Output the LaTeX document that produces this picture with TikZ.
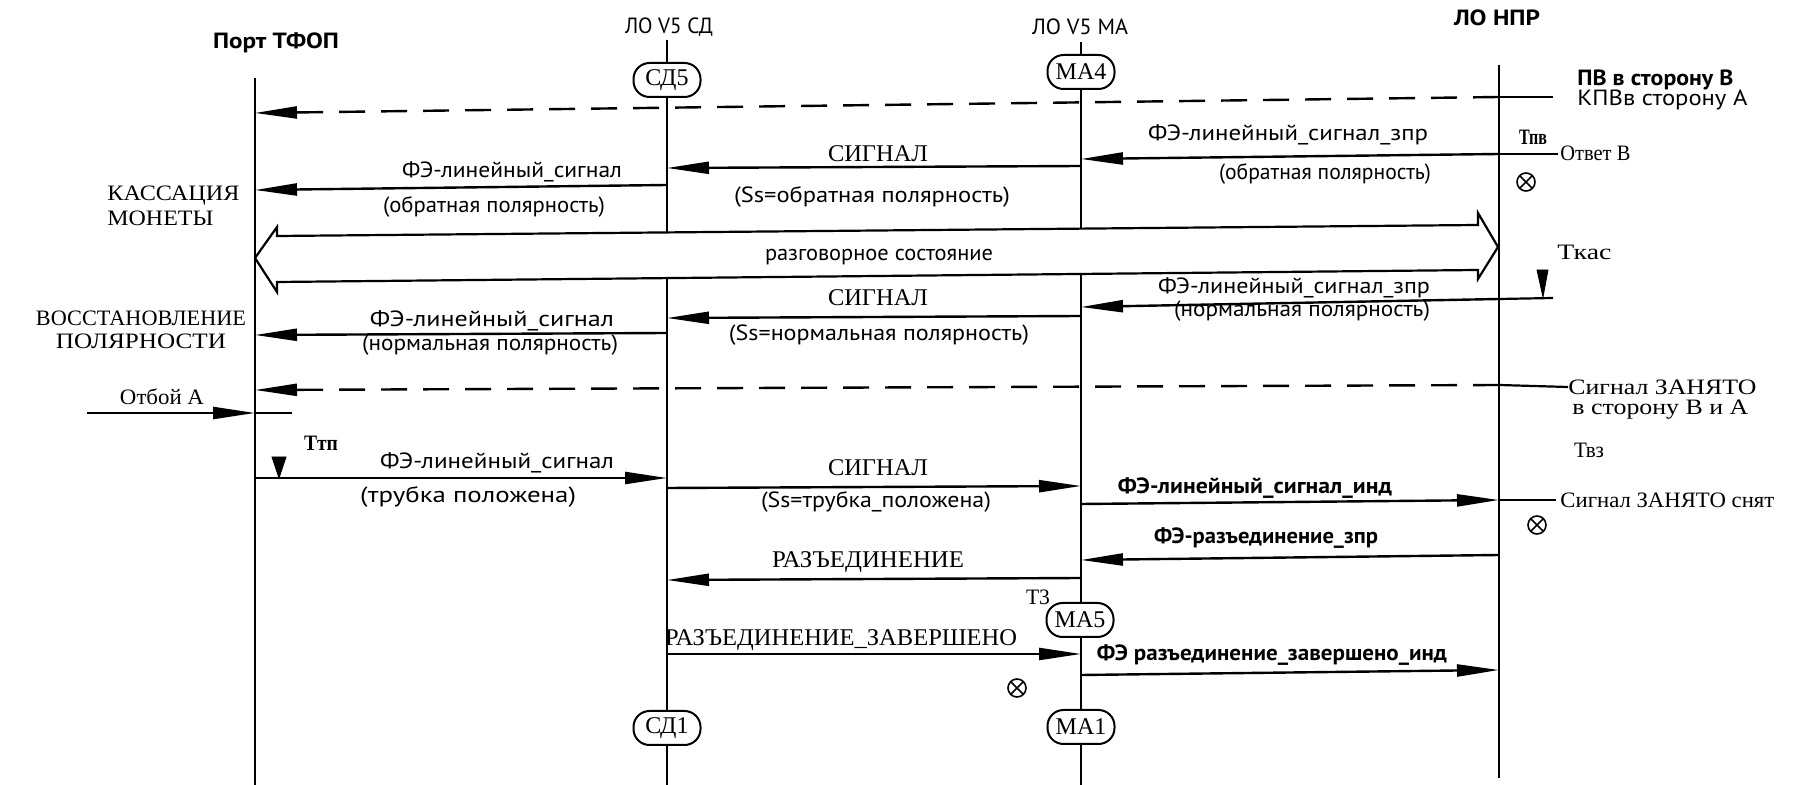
\documentclass[tikz,border=0pt]{standalone}
\usepackage{fontspec}
\usepackage{graphicx}
\setmainfont{PT Sans}
\newfontfamily\serf{Liberation Serif}
\usetikzlibrary{arrows.meta}
\newcommand\fw[2]{\resizebox{#1}{\height}{#2}}
\begin{document}
\begin{tikzpicture}[x=0.5pt,y=-0.5pt,
  every node/.style={inner sep=0pt, font=\fontsize{11}{13}\selectfont},
  ser/.style={font=\serf\fontsize{11}{13}\selectfont},
  bigser/.style={font=\serf\fontsize{12}{14}\selectfont},
  life/.style={line width=0.9pt},
  msg/.style={line width=1.2pt,-{Triangle[length=21pt,width=6pt]}},
  dmsg/.style={msg, dash pattern=on 13pt off 8pt},
  stub/.style={line width=1.1pt},
  statebox/.style={draw, line width=1pt, rounded corners=8pt, fill=white,
    minimum width=33.5pt, minimum height=17pt, font=\serf\fontsize{12}{14}\selectfont},
  otimes/.style={circle, draw, line width=0.8pt, minimum size=9pt, fill=white,
    path picture={\draw[line width=0.8pt] (path picture bounding box.north west)--(path picture bounding box.south east)
      (path picture bounding box.north east)--(path picture bounding box.south west);}},
  timer/.style={fill=black}
]
\useasboundingbox (0,0) rectangle (1801,785);

% ---------- headers ----------
\node[font=\bfseries\fontsize{11}{13}\selectfont] (hP) at (276,43) {\fw{63pt}{Порт ТФОП}};
\node (hS) at (669,27) {\fw{44pt}{ЛО V5 СД}};
\node (hM) at (1080,27) {\fw{48pt}{ЛО V5 МА}};
\node[font=\bfseries\fontsize{11}{13}\selectfont] (hN) at (1497,18) {\fw{43pt}{ЛО НПР}};

% ---------- lifelines ----------
\coordinate (Ptop) at (255,78);   \coordinate (Pbot) at (255,785);
\coordinate (Stop) at (667,40);   \coordinate (Sbot) at (667,785);
\coordinate (Mtop) at (1081,42);  \coordinate (Mbot) at (1081,785);
\coordinate (Ntop) at (1499,65);  \coordinate (Nbot) at (1499,778);
\draw[life] (Ptop) -- (Pbot);
\draw[life] (Stop) -- (Sbot);
\draw[life] (Mtop) -- (Mbot);
\draw[life] (Ntop) -- (Nbot);

% ---------- state boxes ----------
\node[statebox] (sd5) at (667,80) {СД5};
\node[statebox] (ma4) at (1081,72) {МА4};
\node[statebox] (ma5) at (1080,620) {МА5};
\node[statebox] (sd1) at (667,728) {СД1};
\node[statebox] (ma1) at (1081,727) {МА1};

% ---------- 1: dashed ПВ ----------
\coordinate (n1) at (1499,97); \coordinate (p1) at (255,113); \coordinate (e1) at (1553,97);
\draw[dmsg] (n1) -- (p1);
\draw[stub] (n1) -- (e1);
\node[font=\bfseries\fontsize{11}{13}\selectfont, anchor=west] (pv1) at (1577,80) {\fw{78pt}{ПВ в сторону В}};
\node[anchor=west] (pv2) at (1577,100) {\fw{85pt}{КПВв сторону А}};

% ---------- 2: ФЭ-линейный_сигнал_зпр ----------
\coordinate (n2) at (1499,154); \coordinate (m2) at (1081,159); \coordinate (e2) at (1558,154);
\draw[msg] (n2) -- (m2);
\draw[stub] (n2) -- (e2);
\node (l2a) at (1288,135) {\fw{140pt}{ФЭ-линейный\_сигнал\_зпр}};
\node (l2b) at (1325,174) {\fw{106pt}{(обратная полярность)}};
\node[font=\serf\bfseries\fontsize{11}{13}\selectfont] (tpv) at (1533,137) {\fw{14pt}{Тпв}};
\node[ser, anchor=west] (otvB) at (1560,153) {\fw{35pt}{Ответ В}};
\node[otimes] (x1) at (1526,182) {};

% ---------- 3: СИГНАЛ (обратная) ----------
\coordinate (m3) at (1081,166); \coordinate (s3) at (667,168);
\draw[msg] (m3) -- (s3);
\node[bigser] (l3a) at (878,154) {\fw{50pt}{СИГНАЛ}};
\node (l3b) at (872,197) {\fw{138pt}{(Ss=обратная полярность)}};

% ---------- 4: ФЭ-линейный_сигнал ----------
\coordinate (s4) at (667,185); \coordinate (p4) at (255,190);
\draw[msg] (s4) -- (p4);
\node (l4a) at (512,172) {\fw{110pt}{ФЭ-линейный\_сигнал}};
\node (l4b) at (494,207) {\fw{111pt}{(обратная полярность)}};
\node[ser, anchor=west] (kas1) at (107,196) {\fw{66pt}{КАССАЦИЯ}};
\node[ser, anchor=west] (kas2) at (107,218) {\fw{53pt}{МОНЕТЫ}};

% ---------- 5: разговорное состояние ----------
\draw[line width=1.1pt, fill=white, line join=miter]
  (255,258) -- (277,227) -- (277,236) -- (1478,225) -- (1478,213) -- (1498,247)
  -- (1478,279) -- (1478,270) -- (277,282) -- (277,292) -- cycle;
\node (talk) at (879,257) {\fw{114pt}{разговорное состояние}};
\node[ser, anchor=west] (tkas) at (1557,252) {\fw{27pt}{Ткас}};

% ---------- 6: ФЭ-линейный_сигнал_зпр (норм.) ----------
\coordinate (n6) at (1499,299); \coordinate (m6) at (1081,307); \coordinate (e6) at (1553,298);
\draw[msg] (n6) -- (m6);
\draw[stub] (n6) -- (e6);
\draw[timer] (1537,270) -- (1548,270) -- (1543,297) -- cycle;
\node (l6a) at (1294,288) {\fw{136pt}{ФЭ-линейный\_сигнал\_зпр}};
\node (l6b) at (1302,311) {\fw{128pt}{(нормальная полярность)}};

% ---------- 7: СИГНАЛ (норм.) ----------
\coordinate (m7) at (1081,316); \coordinate (s7) at (667,318);
\draw[msg] (m7) -- (s7);
\node[bigser] (l7a) at (878,298) {\fw{50pt}{СИГНАЛ}};
\node (l7b) at (879,335) {\fw{150pt}{(Ss=нормальная полярность)}};

% ---------- 8: ФЭ-линейный_сигнал (норм.) ----------
\coordinate (s8) at (667,333); \coordinate (p8) at (255,335);
\draw[msg] (s8) -- (p8);
\node (l8a) at (492,321) {\fw{122pt}{ФЭ-линейный\_сигнал}};
\node (l8b) at (490,345) {\fw{128pt}{(нормальная полярность)}};
\node[ser] (vos1) at (141,318) {\fw{105pt}{ВОССТАНОВЛЕНИЕ}};
\node[ser] (vos2) at (141,341) {\fw{85pt}{ПОЛЯРНОСТИ}};

% ---------- 9: dashed ЗАНЯТО ----------
\coordinate (n9) at (1499,385); \coordinate (p9) at (255,390); \coordinate (e9) at (1568,387);
\draw[dmsg] (n9) -- (p9);
\draw[stub] (n9) -- (e9);
\node[ser, anchor=west] (zan1) at (1568,387) {\fw{94pt}{Сигнал ЗАНЯТО}};
\node[ser, anchor=west] (zan2) at (1572,410) {\fw{88pt}{в сторону В и А}};

% ---------- 10: Отбой А ----------
\coordinate (o1) at (87,413); \coordinate (p10) at (255,413); \coordinate (o2) at (292,413);
\draw[msg] (o1) -- (p10);
\draw[stub] (p10) -- (o2);
\node[ser] (otb) at (162,397) {\fw{42pt}{Отбой А}};

% ---------- 11-12: ФЭ-линейный_сигнал (трубка) ----------
\node[font=\serf\bfseries\fontsize{11}{13}\selectfont] (ttp) at (321,443) {\fw{17pt}{Ттп}};
\coordinate (p12) at (255,478); \coordinate (s12) at (667,478);
\draw[timer] (272,457) -- (286,457) -- (279,478) -- cycle;
\draw[msg] (p12) -- (s12);
\node (l12a) at (497,463) {\fw{117pt}{ФЭ-линейный\_сигнал}};
\node (l12b) at (468,497) {\fw{108pt}{(трубка положена)}};

% ---------- 13: СИГНАЛ (трубка) ----------
\coordinate (s13) at (667,488); \coordinate (m13) at (1081,486);
\draw[msg] (s13) -- (m13);
\node[bigser] (l13a) at (878,468) {\fw{50pt}{СИГНАЛ}};
\node (l13b) at (876,502) {\fw{115pt}{(Ss=трубка\_положена)}};

% ---------- 14-15: ФЭ-линейный_сигнал_инд ----------
\node[ser] (tvz) at (1589,450) {\fw{15pt}{Твз}};
\coordinate (m15) at (1081,504); \coordinate (n15) at (1499,500); \coordinate (e15) at (1556,500);
\draw[msg] (m15) -- (n15);
\draw[stub] (n15) -- (e15);
\node[font=\bfseries\fontsize{11}{13}\selectfont] (l15) at (1255,488) {\fw{137pt}{ФЭ-линейный\_сигнал\_инд}};
\node[ser, anchor=west] (zsn) at (1560,500) {\fw{107pt}{Сигнал ЗАНЯТО снят}};
\node[otimes] (x2) at (1537,525) {};

% ---------- 17: ФЭ-разъединение_зпр ----------
\coordinate (n17) at (1499,555); \coordinate (m17) at (1081,560);
\draw[msg] (n17) -- (m17);
\node[font=\bfseries\fontsize{11}{13}\selectfont] (l17) at (1266,538) {\fw{112pt}{ФЭ-разъединение\_зпр}};

% ---------- 18: РАЗЪЕДИНЕНИЕ ----------
\coordinate (m18) at (1081,578); \coordinate (s18) at (667,580);
\draw[msg] (m18) -- (s18);
\node[bigser] (l18) at (868,562) {\fw{96pt}{РАЗЪЕДИНЕНИЕ}};
\node[ser] (t3) at (1038,597) {\fw{12pt}{Т3}};

% ---------- 21: РАЗЪЕДИНЕНИЕ_ЗАВЕРШЕНО ----------
\coordinate (s21) at (667,654); \coordinate (m21) at (1081,654);
\draw[msg] (s21) -- (m21);
\node[bigser] (l21) at (841,640) {\fw{176pt}{РАЗЪЕДИНЕНИЕ\_ЗАВЕРШЕНО}};

% ---------- 22: ФЭ разъединение_завершено_инд ----------
\coordinate (m22) at (1081,675); \coordinate (n22) at (1499,670);
\draw[msg] (m22) -- (n22);
\node[font=\bfseries\fontsize{11}{13}\selectfont] (l22) at (1272,655) {\fw{175pt}{ФЭ разъединение\_завершено\_инд}};
\node[otimes] (x3) at (1017,688) {};

\end{tikzpicture}
\end{document}
